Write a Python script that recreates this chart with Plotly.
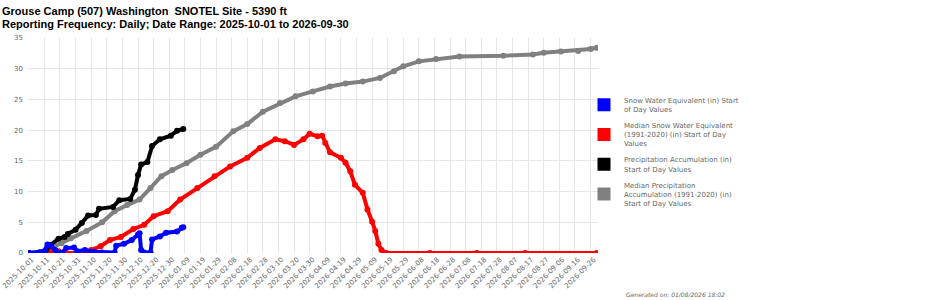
import plotly.graph_objects as go

# ---- data ----
swe_dates = ["2025-10-01", "2025-10-08", "2025-10-11", "2025-10-13", "2025-10-15", "2025-10-18",
             "2025-10-22", "2025-10-25", "2025-10-30", "2025-11-01", "2025-11-06", "2025-11-12",
             "2025-11-17", "2025-11-25", "2025-11-26", "2025-12-01", "2025-12-06", "2025-12-10",
             "2025-12-11", "2025-12-12", "2025-12-14", "2025-12-18", "2025-12-19", "2025-12-24",
             "2025-12-28", "2026-01-04", "2026-01-07", "2026-01-08"]
swe_values = [0.0, 0.1, 0.3, 1.4, 1.2, 0.5,
              0.0, 0.8, 0.9, 0.3, 0.5, 0.2,
              0.1, 0.1, 1.2, 1.5, 2.1, 3.0,
              3.2, 0.5, 0.1, 0.1, 2.2, 2.7,
              3.3, 3.5, 4.1, 4.2]

med_swe_dates = ["2025-10-01", "2025-10-12", "2025-10-14", "2025-10-20", "2025-10-22", "2025-11-07",
                 "2025-11-10", "2025-11-16", "2025-11-22", "2025-11-29", "2025-12-07", "2025-12-14",
                 "2025-12-20", "2025-12-29", "2026-01-06", "2026-01-17", "2026-01-28", "2026-02-07",
                 "2026-02-18", "2026-02-26", "2026-03-08", "2026-03-14", "2026-03-20", "2026-03-26",
                 "2026-03-30", "2026-04-04", "2026-04-07", "2026-04-09", "2026-04-12", "2026-04-19",
                 "2026-04-22", "2026-04-25", "2026-04-28", "2026-05-03", "2026-05-06", "2026-05-09",
                 "2026-05-11", "2026-05-13", "2026-05-15", "2026-05-18", "2026-06-15", "2026-07-15",
                 "2026-08-15", "2026-09-30"]
med_swe_values = [0.0, 0.0, 0.3, 0.3, 0.0, 0.0,
                  0.5, 1.1, 2.1, 2.6, 3.9, 4.6,
                  6.0, 6.8, 8.7, 10.6, 12.5, 14.1,
                  15.5, 17.1, 18.5, 18.2, 17.6, 18.5,
                  19.4, 19.0, 19.1, 17.9, 16.4, 15.5,
                  14.7, 13.3, 11.1, 9.8, 7.1, 5.1,
                  3.6, 1.5, 0.5, 0.0, 0.0, 0.0,
                  0.0, 0.0]

precip_dates = ["2025-10-01", "2025-10-08", "2025-10-12", "2025-10-15", "2025-10-20", "2025-10-24",
                "2025-10-26", "2025-10-31", "2025-11-04", "2025-11-08", "2025-11-13", "2025-11-15",
                "2025-11-24", "2025-11-28", "2025-12-05", "2025-12-08", "2025-12-10", "2025-12-12",
                "2025-12-16", "2025-12-19", "2025-12-24", "2025-12-31", "2026-01-04", "2026-01-08"]
precip_values = [0.0, 0.1, 0.5, 1.3, 2.3, 2.6,
                 3.1, 3.8, 4.9, 6.1, 6.2, 7.2,
                 7.5, 8.6, 8.8, 10.3, 12.7, 14.4,
                 14.8, 17.4, 18.5, 19.1, 19.9, 20.2]

med_precip_dates = ["2025-10-01", "2025-10-10", "2025-10-16", "2025-10-22", "2025-10-28", "2025-11-07",
                    "2025-11-17", "2025-11-25", "2025-12-03", "2025-12-11", "2025-12-18", "2025-12-25",
                    "2026-01-01", "2026-01-10", "2026-01-19", "2026-01-29", "2026-02-09", "2026-02-18",
                    "2026-02-28", "2026-03-11", "2026-03-21", "2026-04-01", "2026-04-12", "2026-04-22",
                    "2026-05-03", "2026-05-14", "2026-05-23", "2026-05-29", "2026-06-08", "2026-06-19",
                    "2026-07-04", "2026-08-01", "2026-08-20", "2026-08-27", "2026-09-07", "2026-09-18",
                    "2026-09-26", "2026-09-30"]
med_precip_values = [0.0, 0.1, 0.9, 1.6, 2.4, 3.6,
                     5.0, 6.8, 7.8, 8.7, 10.6, 12.5,
                     13.5, 14.6, 16.0, 17.3, 19.8, 21.0,
                     23.0, 24.4, 25.5, 26.3, 27.1, 27.6,
                     27.9, 28.5, 29.6, 30.4, 31.2, 31.6,
                     32.0, 32.1, 32.3, 32.6, 32.8, 32.9,
                     33.2, 33.4]

series = [
    ("Snow Water Equivalent (in) Start<br>of Day Values", swe_dates, swe_values, "#0000ff"),
    ("Median Snow Water Equivalent<br>(1991-2020) (in) Start of Day<br>Values", med_swe_dates, med_swe_values, "#ff0000"),
    ("Precipitation Accumulation (in)<br>Start of Day Values", precip_dates, precip_values, "#000000"),
    ("Median Precipitation<br>Accumulation (1991-2020) (in)<br>Start of Day Values", med_precip_dates, med_precip_values, "#808080"),
]

title_line1 = "Grouse Camp (507) Washington  SNOTEL Site - 5390 ft"
title_line2 = "Reporting Frequency: Daily; Date Range: 2025-10-01 to 2026-09-30"
generated = "Generated on: 01/08/2026 18:02"

fig = go.Figure()
# draw order: medians behind
for idx in [3, 1, 2, 0]:
    name, xs, ys, col = series[idx]
    fig.add_trace(go.Scatter(x=xs, y=ys, mode="lines+markers", name=name, showlegend=False,
                             line=dict(color=col, width=4), marker=dict(color=col, size=6)))
for i, (name, xs, ys, col) in enumerate(series):
    fig.add_trace(go.Scatter(x=[None], y=[None], mode="markers", name=name, legendgroup="g%d" % i,
                             marker=dict(color=col, size=13, symbol="square", line=dict(width=0))))

title_font = dict(family="Liberation Sans, Arial", size=11, color="#000000")
PW = 570.0  # plot width in px (951 - 28 - 353)

fig.update_layout(
    width=951, height=300,
    margin=dict(l=28, r=353, t=38, b=47, autoexpand=False),
    paper_bgcolor="white", plot_bgcolor="white",
    font=dict(family="DejaVu Sans", size=7, color="#666666"),
    showlegend=True,
    legend=dict(x=(584 - 28) / PW, xanchor="left", y=0.762, yanchor="top",
                font=dict(family="DejaVu Sans", size=7, color="#666666"),
                bgcolor="rgba(0,0,0,0)", tracegroupgap=4),
    xaxis=dict(type="date", range=["2025-09-30 12:00", "2026-09-30 18:00"],
               tick0="2025-10-01", dtick=10 * 86400000, tickformat="%Y-%m-%d",
               tickangle=-45, showgrid=True, gridcolor="#e6e6e6", gridwidth=1,
               zeroline=False, showline=False, ticks="", ticklabeloverflow="allow",
               ticklabelshift=3, automargin=False,
               tickfont=dict(family="DejaVu Sans", size=7, color="#666666")),
    yaxis=dict(range=[0, 35], dtick=5, showgrid=True, gridcolor="#e6e6e6",
               zeroline=False, showline=False, ticks="", ticklabelstandoff=4,
               automargin=False,
               tickfont=dict(family="DejaVu Sans", size=7, color="#666666")),
    annotations=[
        dict(text="<b>" + title_line1 + "</b>", xref="paper", yref="paper",
             x=-28 / PW, y=1.1233, xanchor="left", yanchor="middle", showarrow=False,
             font=title_font),
        dict(text="<b>" + title_line2 + "</b>", xref="paper", yref="paper",
             x=-28 / PW, y=1.0651, xanchor="left", yanchor="middle", showarrow=False,
             font=title_font),
        dict(text="<i>" + generated + "</i>", xref="paper", yref="paper",
             x=(623.5 - 28) / PW, y=-0.194, xanchor="left", yanchor="middle", showarrow=False,
             font=dict(family="DejaVu Sans", size=6, color="#666666")),
    ],
)

fig.write_html("out.html")
